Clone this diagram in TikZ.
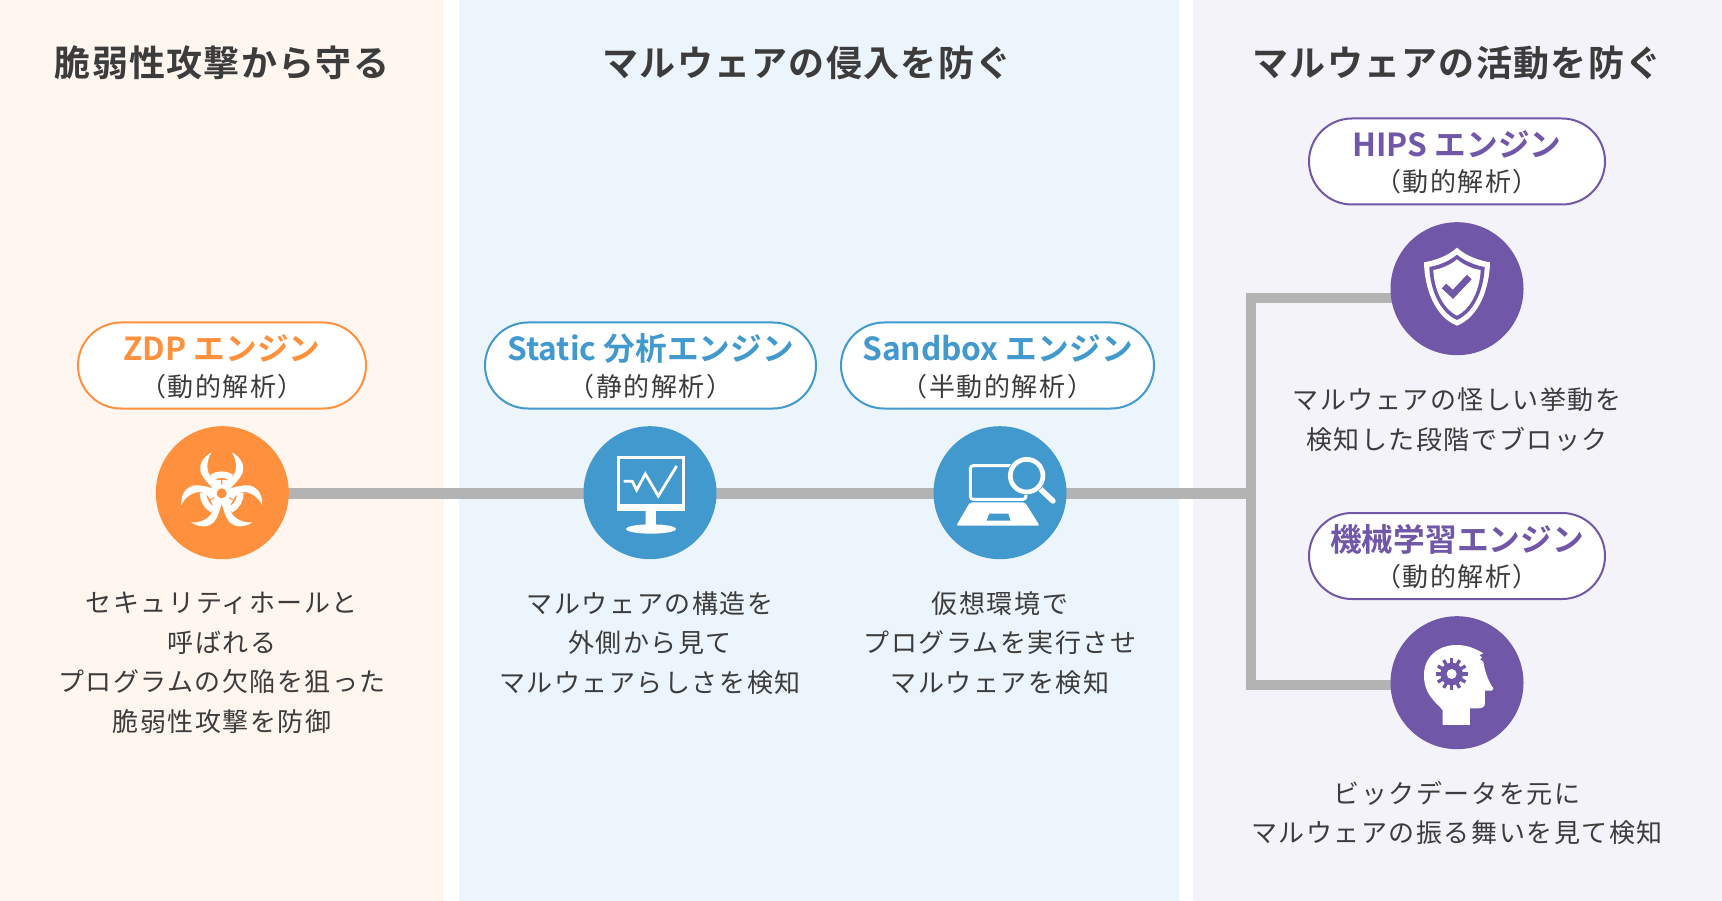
\documentclass[tikz,border=0pt]{standalone}
\usepackage{fontspec}
\usetikzlibrary{backgrounds,calc}
\newfontfamily\jpreg[LetterSpace=5.8]{Noto Sans CJK JP}
\newfontfamily\jpmed[LetterSpace=3.6]{Noto Sans CJK JP Bold}
\newfontfamily\jpttl{Noto Sans CJK JP Bold}
\definecolor{bgO}{HTML}{FFF6F0}
\definecolor{bgB}{HTML}{EDF5FC}
\definecolor{bgP}{HTML}{F4F3FA}
\definecolor{cO}{HTML}{FF913E}
\definecolor{cB}{HTML}{4299CE}
\definecolor{cP}{HTML}{7157A8}
\definecolor{tx}{HTML}{3C3C3C}
\definecolor{ln}{HTML}{B3B3B3}
\tikzset{
  x=1pt,y=-1pt,
  panel/.style={fill=#1,draw=none},
  heading/.style={text=tx,font=\jpmed\fontsize{36}{40}\selectfont,inner sep=0pt},
  body/.style={text=tx,font=\jpreg\fontsize{26}{39.5}\selectfont,align=center,inner sep=0pt},
  pill/.style={draw=#1,fill=white,line width=2pt,rounded corners=43pt,inner sep=0pt,minimum height=86pt},
  pilltitle/.style={text=#1,font=\jpttl\fontsize{31.7}{38}\selectfont,inner sep=0pt,anchor=base},
  pillsub/.style={text=tx,font=\jpreg\fontsize{26}{36}\selectfont,inner sep=0pt,anchor=base},
  badge/.style={circle,fill=#1,draw=none,minimum size=133pt,inner sep=0pt},
  conn/.style={draw=ln,line width=10.5pt,line cap=butt,line join=miter},
}
% name, centre x, centre y, width, colour, title, subtitle
\newcommand{\pillat}[7]{%
  \node[pill=#5,minimum width=#4pt] (#1) at (#2,#3) {};
  \node[pilltitle=#5] (#1t) at ($(#1.center)+(0,-5)$) {#6};
  \node[pillsub] (#1s) at ($(#1.center)+(0,30.5)$) {#7};
}
\begin{document}
\begin{tikzpicture}
\useasboundingbox (0,0) rectangle (1722,901);
\begin{scope}[on background layer]
\fill[white] (0,0) rectangle (1722,901);
\fill[panel=bgO] (0,0) rectangle (444,901);
\fill[panel=bgB] (459,0) rectangle (1179,901);
\fill[panel=bgP] (1193,0) rectangle (1722,901);
\end{scope}
% headings
\node[heading] (h1) at (222,62.5) {脆弱性攻撃から守る};
\node[heading] (h2) at (807,62.5) {マルウェアの侵入を防ぐ};
\node[heading] (h3) at (1457,62.5) {マルウェアの活動を防ぐ};
% badges
\node[badge=cO] (zdp) at (222.3,492.7) {};
\node[badge=cB] (sta) at (650,492.7) {};
\node[badge=cB] (snd) at (1000,492.7) {};
\node[badge=cP] (hip) at (1457,288.7) {};
\node[badge=cP] (mlb) at (1457,682.7) {};
% connectors
\coordinate (jm) at (1251,493.3);
\coordinate (jt) at (1251,298);
\coordinate (jb) at (1251,685);
\begin{scope}[on background layer]
\draw[conn] (zdp.center |- jm) -- (sta.center |- jm) -- (snd.center |- jm) -- (jm);
\draw[conn] (hip.center |- jt) -- (jt) -- (jb) -- (mlb.center |- jb);
\end{scope}
% pills
\pillat{p1}{222}{365.5}{288}{cO}{ZDP エンジン}{（動的解析）}
\pillat{p2}{650.5}{365.5}{331}{cB}{Static 分析エンジン}{（静的解析）}
\pillat{p3}{997.5}{365.5}{313}{cB}{Sandbox エンジン}{（半動的解析）}
\pillat{p4}{1457}{161.5}{296}{cP}{HIPS エンジン}{（動的解析）}
\pillat{p5}{1457}{556}{296}{cP}{機械学習エンジン}{（動的解析）}
% body
\node[body] (t1) at (222,663) {セキュリティホールと\\呼ばれる\\プログラムの欠陥を狙った\\脆弱性攻撃を防御};
\node[body] (t2) at (650,643) {マルウェアの構造を\\外側から見て\\マルウェアらしさを検知};
\node[body] (t3) at (1000,643) {仮想環境で\\プログラムを実行させ\\マルウェアを検知};
\node[body] (t4) at (1457,419.5) {マルウェアの怪しい挙動を\\検知した段階でブロック};
\node[body] (t5) at (1457,813) {ビックデータを元に\\マルウェアの振る舞いを見て検知};
% biohazard
\begin{scope}[shift={(221.7,493.3)},scale=0.3333]
\foreach \a in {0,120,240}{
\begin{scope}[rotate=\a]
\fill[white] (-30,-123) .. controls (-58,-108) and (-70,-85) .. (-62,-60) .. controls (-54,-42) and (-38,-28) .. (-18,-6) -- (-2,-14) -- (-2,-40) .. controls (-15,-38) and (-28,-42) .. (-36,-55) .. controls (-46,-70) and (-46,-100) .. (-30,-123) -- cycle;
\fill[white] (30,-123) .. controls (58,-108) and (70,-85) .. (62,-60) .. controls (54,-42) and (38,-28) .. (18,-6) -- (2,-14) -- (2,-40) .. controls (15,-38) and (28,-42) .. (36,-55) .. controls (46,-70) and (46,-100) .. (30,-123) -- cycle;
\draw[white,line width=6.5pt] (-122:56) arc (-122:-58:56);
\end{scope}}
\fill[white] (0,0) circle (26);
\fill[cO] (0,0) circle (15);
\end{scope}
% monitor
\begin{scope}[shift={(570,410)},scale=0.3333]
\fill[white] (140,138) rectangle (346,302);
\fill[cB] (150,148) rectangle (336,282);
\fill[white] (243,357) ellipse (75 and 14);
\fill[cB] (220,340) -- (266,340) -- (266,346) arc (0:-180:23 and 14) -- cycle;
\fill[white,rounded corners=3.5pt] (227,290) rectangle (258,354);
\fill[white] (227,290) rectangle (258,320);
\draw[white,line width=2.8pt] (161,214) -- (187,214) -- (200,240) -- (226,192) -- (265,258) -- (320,168);
\end{scope}
% laptop
\begin{scope}[shift={(570,410)},scale=0.3333]
\draw[white,line width=3pt,rounded corners=3pt] (1201,167) rectangle (1368,268);
\fill[white,rounded corners=2pt] (1200,277) -- (1365,277) -- (1409,347) -- (1159,347) -- cycle;
\fill[cB] (1258,311) -- (1315,311) -- (1322,332) -- (1250,332) -- cycle;
\draw[white,line width=5.5pt,line cap=round] (1412,238) -- (1449,273);
\fill[cB] (1370,197) circle (58);
\draw[white,line width=4.7pt] (1370,197) circle (49);
\end{scope}
% shield
\begin{scope}[shift={(1230,210)},scale=0.3333]
\fill[white] (681,113) .. controls (710,140) and (750,152) .. (780,157) .. controls (778,240) and (745,322) .. (681,347) .. controls (617,322) and (584,240) .. (582,157) .. controls (612,152) and (652,140) .. (681,113) -- cycle;
\fill[cP] (681,134) .. controls (705,155) and (740,167) .. (764,171) .. controls (762,235) and (735,305) .. (681,330) .. controls (627,305) and (600,235) .. (598,171) .. controls (622,167) and (657,155) .. (681,134) -- cycle;
\fill[white] (681,148) .. controls (700,165) and (730,177) .. (752,180) .. controls (750,235) and (725,295) .. (681,317) .. controls (637,295) and (612,235) .. (610,180) .. controls (632,177) and (662,165) .. (681,148) -- cycle;
\draw[cP,line width=6.5pt] (642,228) -- (669,253) -- (718,201);
\end{scope}
% head
\begin{scope}[shift={(1230,600)},scale=0.3333]
\fill[white] (638,375) -- (638,330) .. controls (610,300) and (582,280) .. (582,225) .. controls (582,170) and (625,135) .. (680,135) .. controls (710,135) and (735,145) .. (760,160) -- (748,166) -- (756,172) -- (750,178) -- (760,185) .. controls (765,215) and (775,245) .. (790,265) -- (786,272) -- (765,272) -- (765,310) .. controls (765,322) and (755,325) .. (745,325) -- (720,325) -- (720,375) -- cycle;
\foreach \a in {0,30,...,330}{
\fill[cP,rotate around={\a:(665,222)}] (660,174) rectangle (670,200);
}
\fill[cP] (665,222) circle (34);
\fill[white] (665,222) circle (15);
\end{scope}
\end{tikzpicture}
\end{document}
